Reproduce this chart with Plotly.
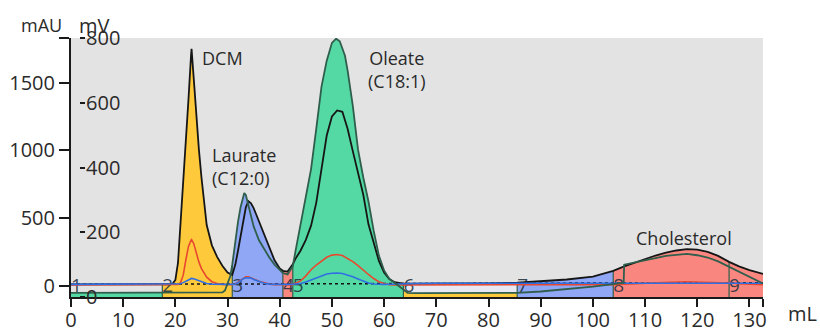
import numpy as np
import plotly.graph_objects as go

# ---------------- data ----------------
# UV traces (mAU) share this elution grid
elution_ml = [0, 17.5, 19, 19.5, 20, 20.5, 21, 21.5, 22, 22.5,
              23, 23.1, 23.5, 24, 24.5, 25, 25.5, 26, 27, 28,
              29, 30, 30.9, 31.5, 32, 32.5, 33, 33.5, 34, 34.5,
              35, 36, 37, 38, 39, 40, 40.6, 41.5, 42.5, 43,
              44, 45, 46, 47, 48, 49, 50, 51, 52, 53,
              54, 55, 56, 57, 58, 59, 60, 61, 62, 63,
              63.7, 66, 70, 75, 80, 85.5, 90, 95, 100, 103.9,
              106, 108, 110, 112, 114, 116, 118, 120, 122, 124,
              126.1, 128, 130, 132.6]
uv_black_mau = [12, 12, 13, 18, 45, 170, 450, 780, 1060, 1370,
                1700, 1750, 1540, 1260, 1010, 800, 620, 450, 300, 215,
                150, 100, 82, 160, 260, 360, 470, 580, 625, 610,
                575, 480, 380, 280, 190, 130, 112, 106, 160, 200,
                262, 340, 445, 615, 880, 1110, 1250, 1295, 1285, 1160,
                995, 840, 675, 455, 315, 185, 100, 52, 28, 20,
                18, 18, 18, 19, 20, 24, 34, 48, 70, 112,
                145, 172, 198, 225, 246, 262, 272, 268, 252, 222,
                178, 145, 118, 90]
uv_red_mau = [8, 8, 8, 8, 8, 12, 25, 80, 190, 290,
              338, 342, 315, 245, 178, 128, 92, 65, 32, 18,
              12, 10, 10, 15, 28, 46, 60, 68, 68, 62,
              52, 35, 22, 14, 10, 9, 9, 9, 10, 20,
              38, 75, 120, 155, 185, 212, 228, 232, 225, 205,
              180, 150, 115, 85, 55, 32, 18, 10, 8, 8,
              8, 8, 8, 8, 8, 8, 8, 8, 8, 10,
              14, 18, 22, 26, 28, 30, 31, 30, 28, 25,
              22, 18, 14, 10]
uv_blue_mau = [12, 12, 12, 12, 12, 14, 17, 25, 35, 47,
               55, 56, 53, 45, 36, 28, 22, 18, 14, 12,
               12, 12, 12, 15, 24, 40, 54, 61, 62, 58,
               48, 32, 20, 14, 12, 12, 12, 12, 13, 14,
               18, 30, 45, 62, 77, 88, 94, 96, 92, 82,
               68, 52, 36, 22, 15, 12, 12, 13, 15, 17,
               18, 19, 20, 20, 20, 20, 20, 20, 20, 20,
               20, 20, 20, 20, 20, 20, 20, 20, 20, 20,
               20, 20, 20, 20]

# second detector (mV)
detector2_ml = [0, 17.5, 28, 29, 29.5, 30, 30.5, 30.9,
                31.5, 32, 32.5, 33, 33.2, 33.5, 34, 34.5, 35,
                36, 37, 38, 39, 40, 40.6, 41.5, 42.5,
                43, 44, 45, 46, 47, 48, 49, 50, 50.8,
                51.5, 52.5, 53, 54, 55, 56, 57, 58, 59, 60,
                61, 62, 63, 63.7, 64.5, 66, 70, 75, 80, 85.5,
                90, 95, 100, 103.9, 105.9, 106, 108, 110, 112, 114,
                116, 118, 120, 122, 124, 126.1, 128, 130, 132.6]
detector2_mv = [13, 13, 13, 14, 20, 40, 63, 100,
                180, 232, 278, 315, 321, 315, 285, 250, 218,
                176, 148, 122, 100, 84, 74, 70, 95,
                140, 225, 305, 395, 520, 650, 730, 785, 798,
                790, 745, 700, 590, 455, 370, 295, 205, 128, 82,
                56, 44, 32, 22, 13, 12, 12, 12, 12, 13,
                17, 24, 32, 40, 44, 100, 106, 112, 120, 127,
                131, 133, 129, 122, 110, 93, 80, 64, 42]

baseline_ml = [0, 132.6]
baseline_mau = [12, 25]

fraction_edges = [0, 17.5, 30.9, 40.6, 42.5, 63.7, 85.5, 103.9, 126.1, 132.6]
fraction_names = ["1", "2", "3", "4", "5", "6", "7", "8", "9"]

peak_names = ["DCM", "Laurate<br>(C12:0)", "Oleate<br>(C18:1)", "Cholesterol"]
peak_label_ml = [24.7, 26.6, 62.5, 117.5]
peak_label_mau = [1684, 881, 1599, 352]

x_ticks = [0, 10, 20, 30, 40, 50, 60, 70, 80, 90, 100, 110, 120, 130]
mau_ticks = [0, 500, 1000, 1500]
mv_ticks = [0, 200, 400, 600, 800]

# ---------------- styling ----------------
GREEN = "#55d9a4"
YELLOW = "#ffc93c"
BLUE = "#8fa7f4"
SALMON = "#f9877f"
PALE = "#e8e8f2"
fraction_colors = [GREEN, YELLOW, BLUE, SALMON, GREEN, YELLOW, BLUE, SALMON, SALMON]
uv_fill_colors = [None, YELLOW, BLUE, SALMON, GREEN, PALE, BLUE, SALMON, SALMON]

X_RANGE = [0, 132.6]
MAU_RANGE = [-81, 1829]
MV_RANGE = [0, 800]
FONT = "Open Sans"
TXT = "#2a2a2a"

ex = np.array(elution_ml, float)
black = np.array(uv_black_mau, float)
dx = np.array(detector2_ml, float)
dmv = np.array(detector2_mv, float)
# express the mV trace in mAU-axis units for the shared fill layer
d_in_mau = MAU_RANGE[0] + (dmv - MV_RANGE[0]) / (MV_RANGE[1] - MV_RANGE[0]) * (MAU_RANGE[1] - MAU_RANGE[0])


def segment(xs, ys, a, b):
    m = (xs >= a) & (xs <= b)
    px = [a] + list(xs[m]) + [b]
    py = [MAU_RANGE[0]] + list(ys[m]) + [MAU_RANGE[0]]
    return px, py


fig = go.Figure()

for i, name in enumerate(fraction_names):
    a, b = fraction_edges[i], fraction_edges[i + 1]
    if uv_fill_colors[i]:
        px, py = segment(ex, black, a, b)
        fig.add_trace(go.Scatter(x=px, y=py, fill="toself", fillcolor=uv_fill_colors[i],
                                 mode="lines", line=dict(width=0), hoverinfo="skip"))
    px, py = segment(dx, d_in_mau, a, b)
    fig.add_trace(go.Scatter(x=px, y=py, fill="toself", fillcolor=fraction_colors[i],
                             mode="lines", line=dict(width=0), hoverinfo="skip"))
    fig.add_trace(go.Scatter(x=[a], y=[-8], mode="text", text=[name], textposition="middle right",
                             textfont=dict(family=FONT, size=19, color="rgba(36,48,62,0.9)"),
                             hoverinfo="skip"))

# fraction boundary marks
bx, by = [], []
for e in fraction_edges[1:-1]:
    top = max(np.interp(e, ex, black), np.interp(e, dx, d_in_mau))
    bx += [e, e, None]
    by += [MAU_RANGE[0], top, None]
fig.add_trace(go.Scatter(x=bx, y=by, mode="lines", line=dict(color="#2f5e4c", width=1.2),
                         hoverinfo="skip"))

fig.add_trace(go.Scatter(x=baseline_ml, y=baseline_mau, mode="lines",
                         line=dict(color="#111111", width=1.5, dash="dot")))
fig.add_trace(go.Scatter(x=elution_ml, y=uv_black_mau, mode="lines",
                         line=dict(color="#161616", width=1.8)))
fig.add_trace(go.Scatter(x=elution_ml, y=uv_red_mau, mode="lines",
                         line=dict(color="#e8492e", width=1.6)))
fig.add_trace(go.Scatter(x=elution_ml, y=uv_blue_mau, mode="lines",
                         line=dict(color="#2f6fe4", width=1.6)))
fig.add_trace(go.Scatter(x=detector2_ml, y=detector2_mv, mode="lines", yaxis="y2",
                         line=dict(color="#2f5e4c", width=1.8)))

for t, xv, yv in zip(peak_names, peak_label_ml, peak_label_mau):
    center = t.startswith("Oleate") or t == "Cholesterol"
    fig.add_annotation(x=xv, y=yv, xref="x", yref="y", text=t, showarrow=False,
                       xanchor="center" if center else "left", yanchor="middle",
                       align="center" if center else "left",
                       font=dict(family=FONT, size=18, color=TXT))

fig.add_annotation(x=-0.042, y=1.05, xref="paper", yref="paper", text="mAU", showarrow=False,
                   xanchor="center", yanchor="middle", font=dict(family=FONT, size=18, color=TXT))
fig.add_annotation(x=0.034, y=1.05, xref="paper", yref="paper", text="mV", showarrow=False,
                   xanchor="center", yanchor="middle", font=dict(family=FONT, size=20, color=TXT))
fig.add_annotation(x=1.057, y=-0.065, xref="paper", yref="paper", text="mL", showarrow=False,
                   xanchor="center", yanchor="middle", font=dict(family=FONT, size=20, color=TXT))

fig.update_layout(
    width=820, height=329,
    margin=dict(l=71, r=57, t=38, b=32, autoexpand=False),
    plot_bgcolor="#e3e3e3", paper_bgcolor="white",
    showlegend=False,
    font=dict(family=FONT, size=20, color=TXT),
    xaxis=dict(range=X_RANGE, tickvals=x_ticks + [X_RANGE[1]],
               ticktext=[str(v) for v in x_ticks] + [""], automargin=False,
               ticks="outside", ticklen=8, tickwidth=2, tickcolor="#1a1a1a",
               ticklabelstandoff=-4,
               showline=True, linecolor="#1a1a1a", linewidth=2,
               showgrid=False, zeroline=False, tickfont=dict(size=20, color=TXT)),
    yaxis=dict(range=MAU_RANGE, tickvals=mau_ticks + [MAU_RANGE[1]],
               ticktext=[str(v) for v in mau_ticks] + [""], automargin=False,
               ticks="outside", ticklen=10, tickwidth=2, tickcolor="#1a1a1a",
               showline=True, linecolor="#1a1a1a", linewidth=2,
               showgrid=False, zeroline=False, tickfont=dict(size=20, color=TXT)),
    yaxis2=dict(range=MV_RANGE, overlaying="y", side="right", anchor="free", position=0.0116,
                tickvals=mv_ticks, ticks="outside", ticklen=5, tickwidth=2, tickcolor="#1a1a1a",
                ticklabelstandoff=-3,
                showline=False, showgrid=False, zeroline=False, automargin=False,
                tickfont=dict(size=20, color=TXT)),
)

fig.write_html("out.html", config={"displayModeBar": False},
               post_script="document.body.style.margin='0px';")
